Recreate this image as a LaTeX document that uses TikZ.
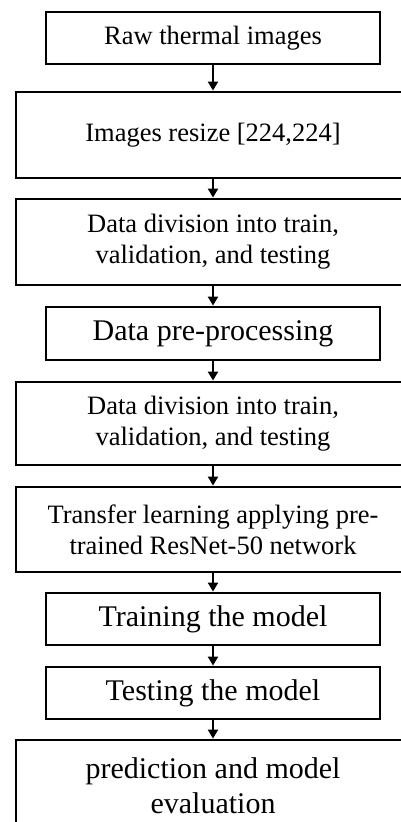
\documentclass[tikz,border=0pt]{standalone}
\usepackage{fontspec}
\setmainfont{Liberation Serif}
\usetikzlibrary{arrows.meta}

\begin{document}
\begin{tikzpicture}[x=1pt,y=-1pt,
	stage/.style={draw,line width=2.8pt,minimum width=334pt,minimum height=52pt,align=center,inner sep=0pt,font=\fontsize{30}{35}\selectfont},
	wide/.style={stage,minimum width=394pt,font=\fontsize{26.5}{31}\selectfont},
	flow/.style={line width=2pt,-{Triangle[width=10pt,length=9pt]}}]
	\useasboundingbox (0,0) rectangle (401,822);
	
	\node[stage,font=\fontsize{26.5}{31}\selectfont] (raw) at (213,38) {Raw thermal images};
	\node[wide,minimum height=86pt] (resize) at (213,135) {Images resize [224,224]};
	\node[wide,minimum height=86pt] (split1) at (213,242) {Data division into train,\\validation, and testing};
	\node[stage,minimum height=53pt] (prep) at (213,333.5) {Data pre-processing};
	\node[wide,minimum height=83pt] (split2) at (213,423.5) {Data division into train,\\validation, and testing};
	\node[wide,minimum height=85pt] (transfer) at (213,529.5) {Transfer learning applying pre-\\trained ResNet-50 network};
	\node[stage] (train) at (213,619) {Training the model};
	\node[stage] (test) at (213,693) {Testing the model};
	\node[stage,minimum width=394pt,minimum height=92pt] (eval) at (213,786) {prediction and model\\evaluation};
	
	\draw[flow] (raw) -- (resize);
	\draw[flow] (resize) -- (split1);
	\draw[flow] (split1) -- (prep);
	\draw[flow] (prep) -- (split2);
	\draw[flow] (split2) -- (transfer);
	\draw[flow] (transfer) -- (train);
	\draw[flow] (train) -- (test);
	\draw[flow] (test) -- (eval);
\end{tikzpicture}
\end{document}
